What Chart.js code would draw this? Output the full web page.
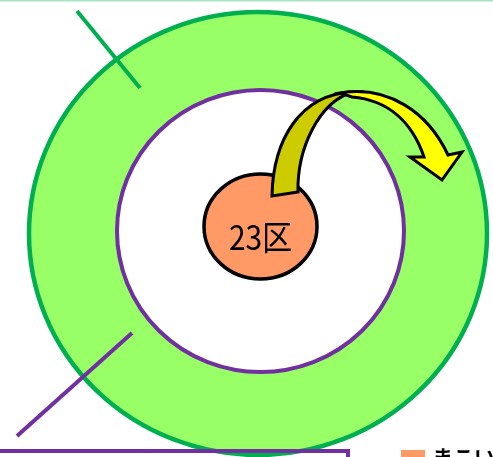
<!DOCTYPE html>
<html>
<head>
<meta charset="utf-8">
<script src="https://cdn.jsdelivr.net/npm/chart.js@4/dist/chart.umd.min.js"></script>
<style>
  html, body { margin: 0; padding: 0; background: #fff; overflow: hidden; }
  canvas { display: block; }
</style>
</head>
<body>
<canvas id="ringChart" width="493" height="457"></canvas>
<script>
// rings: outer zone, inner zone, 23 wards
const ringNames = ['outer', 'inner', 'core'];
const ringCx = [258, 260.5, 260.5];
const ringCy = [233.5, 231, 226.5];
const ringRx = [229, 143.5, 56.5];
const ringRy = [221.5, 141, 52.5];
const ringFill = ['#99ff66', '#ffffff', '#ff9966'];
const ringStroke = ['#00b050', '#7030a0', '#000000'];
const ringWidth = [4.5, 4, 3.5];

const centerLabel = '23区';
const legendLabel = 'まこいの';

// leader lines
const greenLeader = [{ x: 77, y: 11 }, { x: 140, y: 88 }];
const purpleLeader = [{ x: 132, y: 333 }, { x: 17, y: 436 }];
const purpleBox = [{ x: 0, y: 451 }, { x: 348, y: 451 }, { x: 348, y: 462 }];
const topRule = [{ x: 0, y: 0.5 }, { x: 493, y: 0.5 }];

// curved arrow (back part, front part)
const arrowBack = [['M', 272, 196], ['C', 273, 140, 300, 94, 353, 92], ['C', 318, 102, 297, 150, 298, 192], ['Z']];
const arrowFront = [['M', 340, 93], ['C', 388, 85, 428, 112, 448, 155], ['L', 462, 152], ['L', 442, 180],
  ['L', 410, 157], ['L', 424, 157], ['C', 412, 122, 388, 100, 352, 97], ['Z']];

const diagramPlugin = {
  id: 'diagram',
  beforeDatasetsDraw(chart) {
    const { ctx, scales: { x, y } } = chart;
    const px = (v) => x.getPixelForValue(v);
    const py = (v) => y.getPixelForValue(v);

    ringNames.forEach((name, i) => {
      ctx.save();
      ctx.beginPath();
      ctx.ellipse(px(ringCx[i]), py(ringCy[i]),
        Math.abs(px(ringCx[i] + ringRx[i]) - px(ringCx[i])),
        Math.abs(py(ringCy[i] + ringRy[i]) - py(ringCy[i])), 0, 0, Math.PI * 2);
      ctx.fillStyle = ringFill[i];
      ctx.fill();
      ctx.lineWidth = ringWidth[i];
      ctx.strokeStyle = ringStroke[i];
      ctx.stroke();
      ctx.restore();
    });

    // label in the middle
    ctx.save();
    ctx.translate(px(ringCx[2]), py(250));
    ctx.scale(0.88, 1);
    ctx.font = '34px "Noto Sans CJK JP"';
    ctx.fillStyle = '#000';
    ctx.textAlign = 'center';
    ctx.textBaseline = 'alphabetic';
    ctx.fillText(centerLabel, 0, 0);
    ctx.restore();

    const drawPath = (cmds, fill) => {
      ctx.save();
      ctx.beginPath();
      cmds.forEach((c) => {
        if (c[0] === 'M') ctx.moveTo(px(c[1]), py(c[2]));
        else if (c[0] === 'L') ctx.lineTo(px(c[1]), py(c[2]));
        else if (c[0] === 'C') ctx.bezierCurveTo(px(c[1]), py(c[2]), px(c[3]), py(c[4]), px(c[5]), py(c[6]));
        else ctx.closePath();
      });
      ctx.fillStyle = fill;
      ctx.fill();
      ctx.lineWidth = 3;
      ctx.lineJoin = 'miter';
      ctx.strokeStyle = '#000';
      ctx.stroke();
      ctx.restore();
    };
    drawPath(arrowBack, '#cccc00');
    drawPath(arrowFront, '#ffff00');
  },
  afterDatasetsDraw(chart) {
    const { ctx, scales: { x, y } } = chart;
    ctx.save();
    ctx.fillStyle = '#ff9966';
    ctx.fillRect(x.getPixelForValue(401), y.getPixelForValue(450), 24, 12);
    ctx.font = 'bold 21px "Noto Sans CJK JP"';
    ctx.fillStyle = '#000';
    ctx.textBaseline = 'alphabetic';
    ctx.fillText(legendLabel, x.getPixelForValue(432), y.getPixelForValue(465));
    ctx.restore();
  }
};

const lineSet = (data, color, width) => ({
  data, showLine: true, borderColor: color, borderWidth: width,
  pointRadius: 0, fill: false, clip: false, borderCapStyle: 'butt'
});

new Chart(document.getElementById('ringChart'), {
  type: 'scatter',
  data: {
    datasets: [
      lineSet(greenLeader, '#00b050', 4),
      lineSet(purpleLeader, '#7030a0', 4),
      lineSet(purpleBox, '#7030a0', 4),
      lineSet(topRule, '#a9e5c4', 2),
    ],
  },
  options: {
    responsive: false,
    animation: false,
    devicePixelRatio: 1,
    layout: { padding: 0 },
    plugins: { legend: { display: false }, tooltip: { enabled: false } },
    scales: {
      x: { type: 'linear', min: 0, max: 493, display: false },
      y: { type: 'linear', min: 0, max: 457, reverse: true, display: false },
    },
  },
  plugins: [diagramPlugin],
});
</script>
</body>
</html>
